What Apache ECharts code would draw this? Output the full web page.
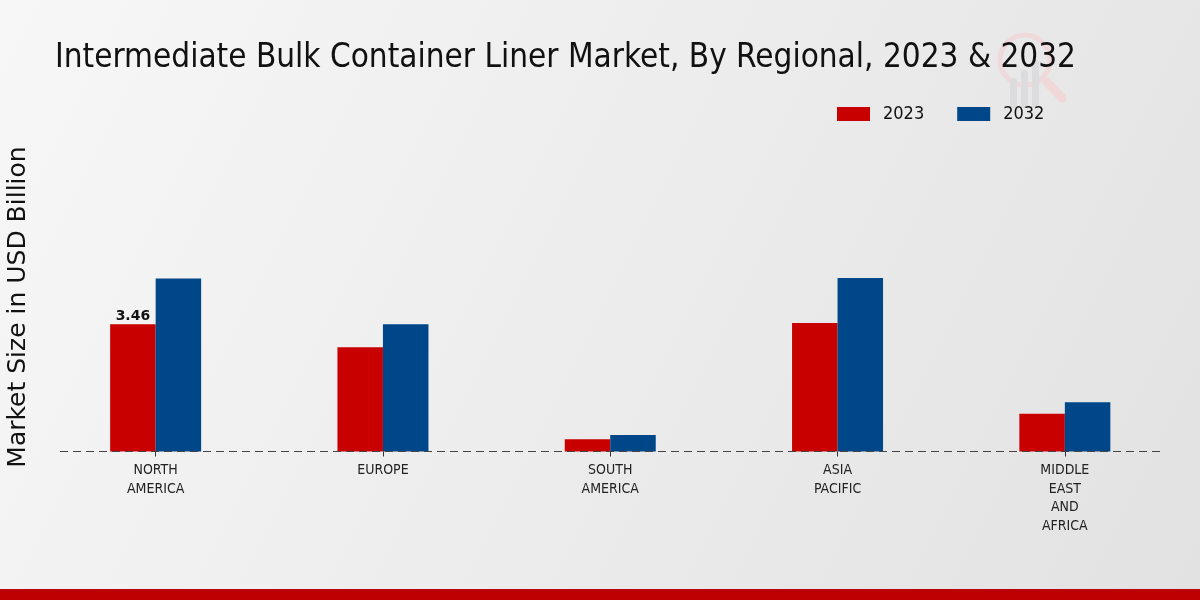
<!DOCTYPE html>
<html><head><meta charset="utf-8">
<script src="https://cdn.jsdelivr.net/npm/echarts@6/dist/echarts.min.js"></script>
<style>html,body{margin:0;padding:0;}#c{width:1200px;height:600px;}</style>
</head><body><div id="c"></div>
<script>
const categories = ['NORTH\nAMERICA', 'EUROPE', 'SOUTH\nAMERICA', 'ASIA\nPACIFIC', 'MIDDLE\nEAST\nAND\nAFRICA'];
const seriesNames = ['2023', '2032'];
const values2023 = [3.46, 2.84, 0.33, 3.50, 1.03];
const values2032 = [4.71, 3.46, 0.45, 4.72, 1.34];
const labelled2023 = [true, false, false, false, false];
const yAxisTitle = 'Market Size in USD Billion';

const chart = echarts.init(document.getElementById('c'), null, {renderer: 'canvas'});
const FONT = '"DejaVu Sans Condensed", "DejaVu Sans", sans-serif';
chart.setOption({
  animation: false,
  backgroundColor: new echarts.graphic.LinearGradient(0, 0, 1, 1, [
    {offset: 0, color: '#f7f7f7'}, {offset: 1, color: '#e2e2e2'}
  ]),
  title: {
    text: 'Intermediate Bulk Container Liner Market, By Regional, 2023 & 2032',
    left: 50, top: 37, z: 5,
    textStyle: {fontFamily: FONT, fontSize: 33, fontWeight: 'normal', color: '#111'}
  },
  legend: {
    data: seriesNames,
    top: 100, left: 832, icon: 'rect',
    itemWidth: 33, itemHeight: 14, itemGap: 33,
    textStyle: {fontFamily: FONT, fontSize: 18, color: '#111', padding: [0, 0, 0, 8]}
  },
  grid: {left: 42, right: 21.5, top: 231, bottom: 148.5, containLabel: false, outerBoundsMode: 'none'},
  xAxis: {
    type: 'category', data: categories,
    axisLine: {show: false},
    axisTick: {show: true, alignWithLabel: true, length: 5, lineStyle: {color: '#333'}},
    axisLabel: {fontFamily: FONT, fontSize: 14, color: '#222', lineHeight: 18.5, margin: 10, interval: 0}
  },
  yAxis: {
    type: 'value', min: 0, max: 6,
    axisLine: {show: false}, axisTick: {show: false}, axisLabel: {show: false},
    splitLine: {show: false}
  },
  series: [
    {
      name: seriesNames[0], type: 'bar', data: values2023.map((v, i) => ({
        value: v,
        label: {show: labelled2023[i], position: 'top', distance: 1, formatter: '{c}',
                fontFamily: '"DejaVu Sans", sans-serif', fontWeight: 'bold', fontSize: 14, color: '#111'}
      })),
      barWidth: 45.5, barGap: '0%',
      itemStyle: {color: '#c80000'}
    },
    {
      name: seriesNames[1], type: 'bar', data: values2032,
      barWidth: 45.5, barGap: '0%',
      itemStyle: {color: '#00478a'}
    }
  ],
  graphic: [
    {type: 'text', x: 18, y: 307, rotation: Math.PI / 2,
     style: {text: yAxisTitle, fontFamily: '"DejaVu Sans", sans-serif', fontSize: 25, fill: '#111',
             align: 'center', verticalAlign: 'middle'}},
    {type: 'line', shape: {x1: 60, y1: 451.5, x2: 1160, y2: 451.5}, z: 10,
     style: {stroke: '#444', lineWidth: 1, lineDash: [8, 5]}},
    {type: 'rect', shape: {x: 0, y: 589, width: 1200, height: 11}, style: {fill: '#bd0000'}},
    {type: 'group', z: 0, children: [
      {type: 'line', shape: {x1: 1047, y1: 82, x2: 1062, y2: 98}, style: {stroke: '#f0d8d9', lineWidth: 9, lineCap: 'round'}},
      {type: 'circle', shape: {cx: 1025, cy: 60, r: 25}, style: {fill: 'none', stroke: '#efd9da', lineWidth: 5}},
      {type: 'rect', shape: {x: 1010, y: 78, width: 7, height: 30, r: 3}, style: {fill: '#dcdcdf'}},
      {type: 'rect', shape: {x: 1021, y: 70, width: 7, height: 38, r: 3}, style: {fill: '#dcdcdf'}},
      {type: 'rect', shape: {x: 1032, y: 60, width: 7, height: 48, r: 3}, style: {fill: '#dcdcdf'}}
    ]}
  ]
});
</script></body></html>
